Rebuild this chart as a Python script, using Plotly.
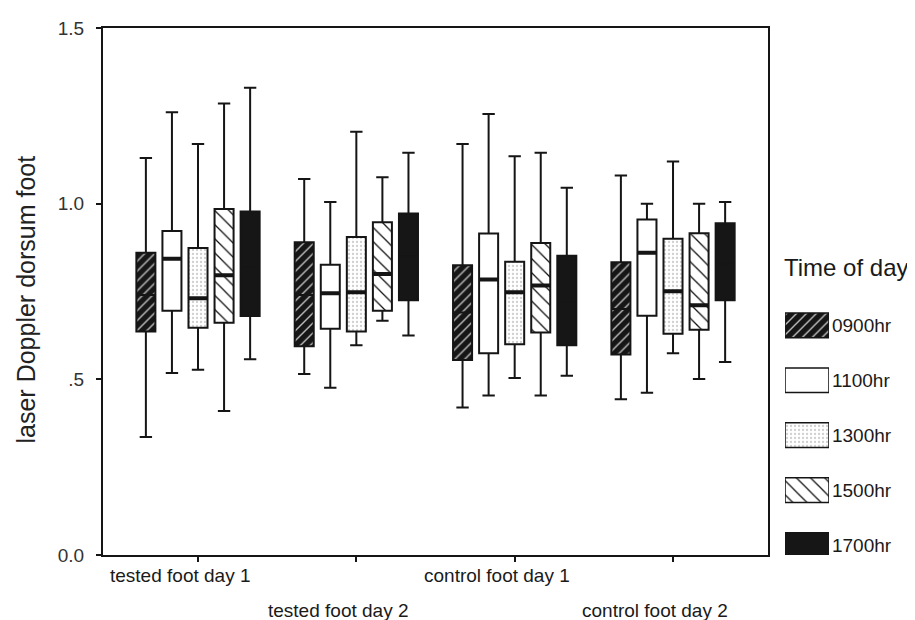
import plotly.graph_objects as go

# ---------------- data ----------------
groups = ["tested foot day 1", "tested foot day 2", "control foot day 1", "control foot day 2"]
times = ["0900hr", "1100hr", "1300hr", "1500hr", "1700hr"]

# one row per time of day, one value per group
whisker_high = [
    [1.13, 1.07, 1.17, 1.08],
    [1.26, 1.005, 1.255, 1.00],
    [1.17, 1.205, 1.135, 1.12],
    [1.285, 1.075, 1.145, 1.00],
    [1.33, 1.145, 1.045, 1.005],
]
q3 = [
    [0.86, 0.89, 0.825, 0.833],
    [0.922, 0.826, 0.915, 0.955],
    [0.874, 0.905, 0.835, 0.90],
    [0.985, 0.947, 0.888, 0.916],
    [0.978, 0.972, 0.852, 0.944],
]
median = [
    [0.74, 0.74, 0.69, 0.70],
    [0.843, 0.745, 0.784, 0.86],
    [0.731, 0.748, 0.748, 0.751],
    [0.796, 0.80, 0.767, 0.711],
    [0.82, 0.85, 0.72, 0.83],
]
q1 = [
    [0.636, 0.594, 0.555, 0.571],
    [0.695, 0.644, 0.574, 0.681],
    [0.647, 0.636, 0.60, 0.630],
    [0.661, 0.695, 0.633, 0.641],
    [0.68, 0.725, 0.597, 0.725],
]
whisker_low = [
    [0.336, 0.515, 0.42, 0.443],
    [0.518, 0.476, 0.454, 0.462],
    [0.527, 0.597, 0.504, 0.574],
    [0.41, 0.667, 0.454, 0.501],
    [0.557, 0.625, 0.51, 0.549],
]

y_tickvals = [0.0, 0.5, 1.0, 1.5]
y_ticktext = ["0.0", ".5", "1.0", "1.5"]

# ---------------- styles ----------------
INK = "#151515"
styles = [
    dict(shape="/", bg="#161616", fg="#bdbdbd", size=7, solidity=0.2, dark=True),
    dict(shape="", bg="white", fg="white", size=8, solidity=0.1, dark=False),
    dict(shape=".", bg="white", fg="#cfcfcf", size=4, solidity=0.25, dark=False),
    dict(shape="\\", bg="white", fg="#111111", size=10, solidity=0.13, dark=False),
    dict(shape="", bg="#161616", fg="#161616", size=8, solidity=0.1, dark=True),
]
FONT = "Liberation Sans, Arial, sans-serif"

fig = go.Figure()

for k, t in enumerate(times):
    st = styles[k]
    pattern = dict(shape=st["shape"], bgcolor=st["bg"], fgcolor=st["fg"],
                   size=st["size"], solidity=st["solidity"], fillmode="replace")
    # patterned box body (interquartile range)
    fig.add_trace(go.Bar(
        x=groups, y=[hi - lo for hi, lo in zip(q3[k], q1[k])], base=q1[k],
        offsetgroup=t, marker=dict(color=st["bg"], pattern=pattern, line=dict(width=0)),
        showlegend=False, hoverinfo="skip"))
    # outline + whiskers
    fig.add_trace(go.Box(
        x=groups, q1=q1[k], median=median[k], q3=q3[k],
        lowerfence=whisker_low[k], upperfence=whisker_high[k],
        offsetgroup=t, name=t, fillcolor="rgba(0,0,0,0)",
        line=dict(color=INK, width=2), whiskerwidth=0.65, boxpoints=False,
        showlegend=False))
    # thick median bar (hidden inside the dark boxes in the original)
    if not st["dark"]:
        fig.add_trace(go.Box(
            x=groups, q1=median[k], median=median[k], q3=median[k],
            lowerfence=median[k], upperfence=median[k],
            offsetgroup=t, name=t, fillcolor="rgba(0,0,0,0)",
            line=dict(color=INK, width=4), whiskerwidth=0, boxpoints=False,
            showlegend=False, hoverinfo="skip"))
    # legend swatch
    fig.add_trace(go.Bar(
        y=[t], x=[1], base=[0], orientation="h", xaxis="x2", yaxis="y2",
        width=0.45, offset=-0.225,
        marker=dict(color=st["bg"], pattern=pattern, line=dict(color=INK, width=1.5)),
        showlegend=False, hoverinfo="skip"))

# page body has an 8px margin, so the figure is 8px smaller and offsets reduced by 8
fig.update_layout(
    width=907, height=612,
    margin=dict(l=95, r=10, t=10, b=65),
    plot_bgcolor="white", paper_bgcolor="white",
    font=dict(family=FONT, size=19, color="#1a1a1a"),
    barmode="group", bargap=0.177, bargroupgap=0.27,
    boxmode="group", boxgap=0.177, boxgroupgap=0.27,
    xaxis=dict(domain=[0, 0.8292], type="category", range=[-0.6, 3.6],
               showline=True, mirror=True, linecolor=INK, linewidth=2,
               ticks="outside", ticklen=5, tickwidth=2, tickcolor=INK,
               showticklabels=False, showgrid=False, zeroline=False),
    yaxis=dict(range=[0, 1.5], tickvals=y_tickvals, ticktext=y_ticktext,
               showline=True, mirror=True, linecolor=INK, linewidth=2,
               ticks="outside", ticklen=5, tickwidth=2, tickcolor=INK,
               ticklabelstandoff=8, tickfont=dict(size=19, color="#333"),
               showgrid=False, zeroline=False),
    xaxis2=dict(domain=[0.8504, 0.9052], range=[0, 1], anchor="y2", visible=False),
    yaxis2=dict(domain=[0, 1], anchor="x2", side="right", type="category",
                range=[4.18, -5.41], showline=False, showgrid=False, zeroline=False,
                ticks="", ticklabelstandoff=2, tickfont=dict(size=19, color="#1a1a1a")),
)

annotations = [
    dict(text="Time of day", xref="paper", x=0.8466, xanchor="left",
         yref="paper", y=0.5456, yanchor="middle", showarrow=False,
         font=dict(size=24, color="#1a1a1a")),
    dict(text="laser Doppler dorsum foot", textangle=-90, xref="paper", x=0,
         xanchor="center", xshift=-78, yref="paper", y=0.5, yanchor="middle",
         yshift=-8, showarrow=False, font=dict(size=25, color="#222")),
]
for i, g in enumerate(groups):
    annotations.append(dict(
        text=g, xref="x", x=g, xshift=-18, yref="paper", y=0, yanchor="middle",
        yshift=-20 if i % 2 == 0 else -55, showarrow=False,
        font=dict(size=19, color="#1a1a1a")))
fig.update_layout(annotations=annotations)

fig.write_html("out.html")
